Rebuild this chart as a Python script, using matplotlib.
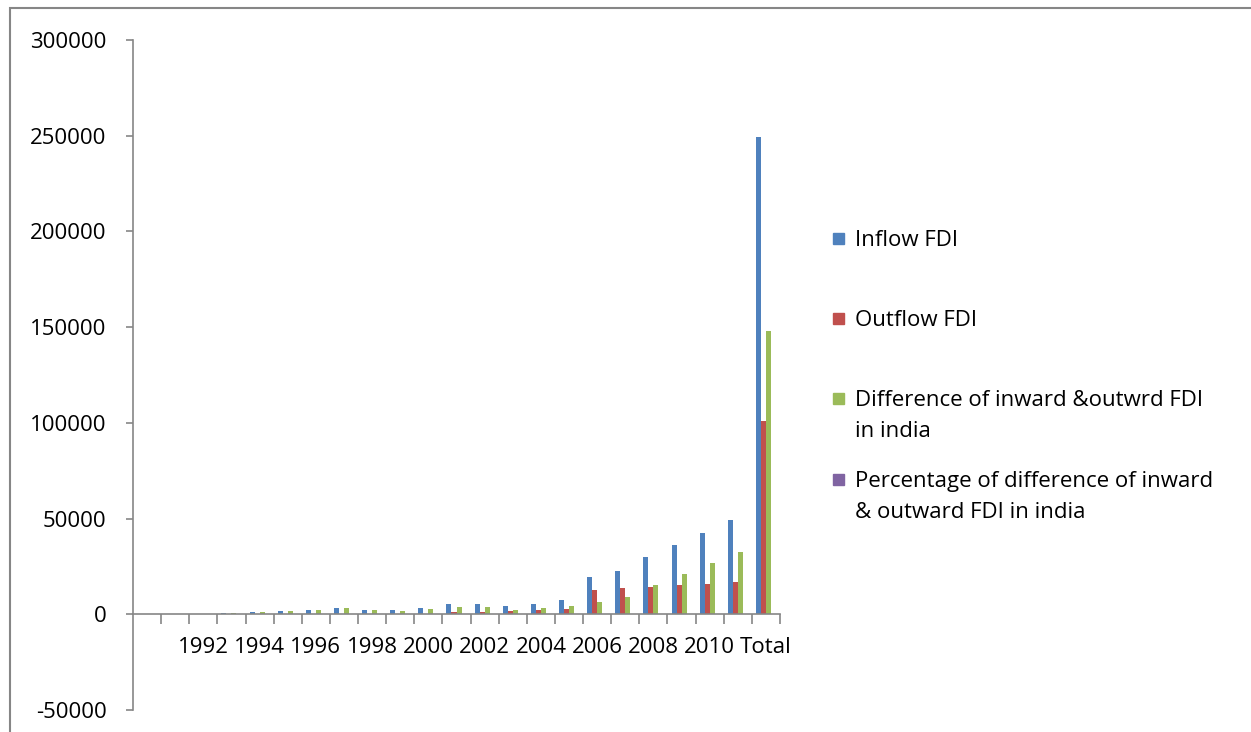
import numpy as np
import matplotlib.pyplot as plt
from matplotlib.patches import Rectangle

# FDI figures by year, last column is the overall total
years = ["", "1991", "1992", "1993", "1994", "1995", "1996", "1997", "1998",
         "1999", "2000", "2001", "2002", "2003", "2004", "2005", "2006",
         "2007", "2008", "2009", "2010", "2011", "Total"]
inflow = [0, 0, 100, 700, 1200, 1800, 2300, 3300, 2300, 2000, 3300, 5400,
          5400, 4300, 5500, 7500, 19500, 22800, 30000, 36300, 42600, 49200, 249100]
outflow = [0, 0, 0, 0, 0, 0, 0, 0, 0, 0, 0, 1200, 1300, 1800, 2100, 3000,
           12800, 13500, 14400, 15100, 15900, 16900, 100900]
difference = [0, 0, 100, 700, 1100, 1700, 2000, 3300, 2250, 1900, 2800, 3900,
              3800, 2400, 3400, 4400, 6600, 9200, 15400, 21000, 26600, 32300, 148100]
pct_difference = [0, 0, 100, 100, 92, 94, 87, 100, 98, 95, 85, 72, 70, 56,
                  62, 59, 34, 40, 51, 58, 62, 66, 59]

series = [
    ("Inflow FDI", inflow, "#4F81BD"),
    ("Outflow FDI", outflow, "#C0504D"),
    ("Difference of inward &outwrd FDI\nin india", difference, "#9BBB59"),
    ("Percentage of difference of inward\n& outward FDI in india", pct_difference, "#8064A2"),
]

plt.rcParams['font.family'] = ['Open Sans', 'DejaVu Sans']
plt.rcParams['axes.unicode_minus'] = False
axis_grey = "#868686"

W, H = 1251, 732
fig = plt.figure(figsize=(W / 100, H / 100), dpi=100)
ax = fig.add_axes([133 / W, 1 - 710 / H, 647 / W, 670 / H])

n = len(years)
bar_w = 0.178
start = (1 - 4 * bar_w) / 2
x = np.arange(n)
for k, (name, vals, col) in enumerate(series):
    ax.bar(x + start + k * bar_w, vals, width=bar_w, align='edge', color=col,
           edgecolor='none', zorder=2)

ax.set_xlim(0, n)
ax.set_ylim(-50000, 300000)
ax.set_yticks(np.arange(-50000, 300001, 50000))

# category boundaries get tick marks, every second category gets a label
ax.set_xticks(np.arange(1, n + 1))
ax.set_xticklabels([])
ax.set_xticks(x[2::2] + 0.5, minor=True)
ax.set_xticklabels(years[2::2], minor=True)
ax.tick_params(axis='x', which='major', length=7, width=1.2, color=axis_grey)
ax.tick_params(axis='x', which='minor', length=0, pad=16, labelsize=16)
ax.tick_params(axis='y', length=5, width=1.2, color=axis_grey, pad=14, labelsize=16)

for s in ("top", "right"):
    ax.spines[s].set_visible(False)
ax.spines["bottom"].set_position(("data", 0))
for s in ("left", "bottom"):
    ax.spines[s].set_color(axis_grey)
    ax.spines[s].set_linewidth(1.2)

# legend on the right, drawn row by row (one text per line)
rows_y = [238, 318, 398, 479]
line_step = 31
for (name, vals, col), yc in zip(series, rows_y):
    fig.add_artist(Rectangle((833 / W, 1 - (yc + 6) / H), 11 / W, 11 / H,
                             transform=fig.transFigure, color=col))
    for j, line in enumerate(name.split("\n")):
        fig.text(855 / W, 1 - (yc + 8 + j * line_step) / H, line, fontsize=16,
                 va='baseline', ha='left')

# outer chart border
fig.add_artist(Rectangle((10 / W, -0.1), 1.2, 1.1 - 8 / H, transform=fig.transFigure,
                         fill=False, edgecolor=axis_grey, linewidth=1.5))

fig.savefig("out.png", dpi=100)
